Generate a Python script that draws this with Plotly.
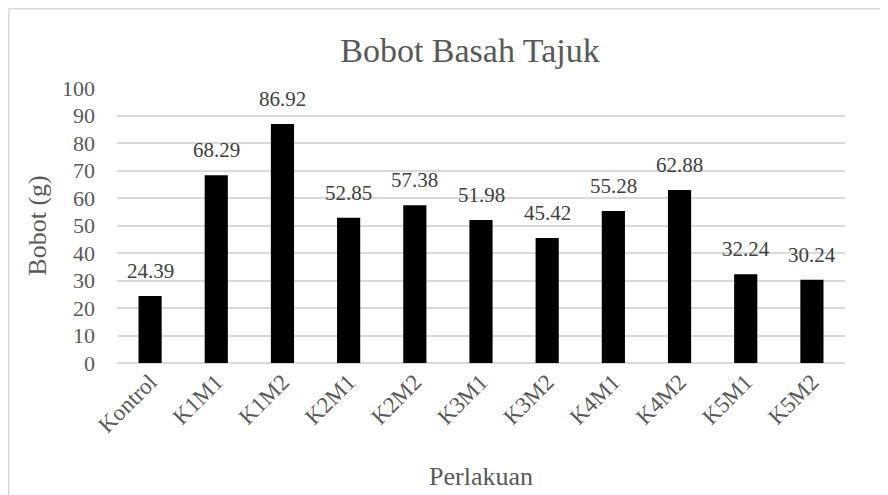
import plotly.graph_objects as go

categories = ["Kontrol", "K1M1", "K1M2", "K2M1", "K2M2", "K3M1", "K3M2", "K4M1", "K4M2", "K5M1", "K5M2"]
values = [24.39, 68.29, 86.92, 52.85, 57.38, 51.98, 45.42, 55.28, 62.88, 32.24, 30.24]
y_ticks = list(range(0, 101, 10))

FONT = "Liberation Serif, Times New Roman, serif"
GRAY = "#595959"

# page has an 8px body margin; figure coords = page coords - 8
W, H = 880, 487
L, R, T, B = 109, 43, 80, 132
pw, ph = W - L - R, H - T - B

def px(x):
    return (x - L) / pw

def py(y):
    return (H - B - y) / ph

fig = go.Figure(go.Bar(
    x=categories, y=values,
    marker=dict(color="black", line=dict(width=0)),
    hoverinfo="x+y",
))

for c, v in zip(categories, values):
    fig.add_annotation(
        x=c, y=v, xref="x", yref="y", text=f"{v:.2f}", showarrow=False,
        yanchor="bottom", xanchor="center", yshift=11,
        font=dict(family=FONT, size=21, color="#404040"),
    )

fig.update_layout(
    width=W, height=H,
    margin=dict(l=L, r=R, t=T, b=B, autoexpand=False),
    paper_bgcolor="white", plot_bgcolor="white",
    bargap=0.65,
    showlegend=False,
    title=dict(text="Bobot Basah Tajuk", xref="container", x=462 / W, xanchor="center",
               yref="container", y=1 - 42 / H, yanchor="middle",
               font=dict(family=FONT, size=34, color=GRAY)),
    font=dict(family=FONT, color=GRAY),
    xaxis=dict(
        tickangle=-45, tickfont=dict(family=FONT, size=23, color=GRAY),
        showgrid=False, showline=False, ticks="",
        title=dict(text="Perlakuan", font=dict(family=FONT, size=26, color=GRAY), standoff=30),
    ),
    yaxis=dict(
        range=[0, 100], tickvals=y_ticks, ticktext=[str(t) for t in y_ticks],
        tickfont=dict(family=FONT, size=22, color=GRAY),
        ticklabelstandoff=21,
        showgrid=True, gridcolor="#d9d9d9", gridwidth=1.5,
        zeroline=True, zerolinecolor="#d9d9d9", zerolinewidth=1.5,
        showline=False, ticks="", ticklen=0,
        title=dict(text="Bobot (g)", font=dict(family=FONT, size=26, color=GRAY), standoff=7),
    ),
    shapes=[
        dict(type="line", xref="paper", yref="paper", x0=px(0.75), x1=px(W + 10), y0=py(0.75), y1=py(0.75),
             line=dict(color="#d9d9d9", width=1.5)),
        dict(type="line", xref="paper", yref="paper", x0=px(0.75), x1=px(0.75), y0=py(0.75), y1=py(H + 10),
             line=dict(color="#d9d9d9", width=1.5)),
    ],
)

fig.write_html("out.html")
